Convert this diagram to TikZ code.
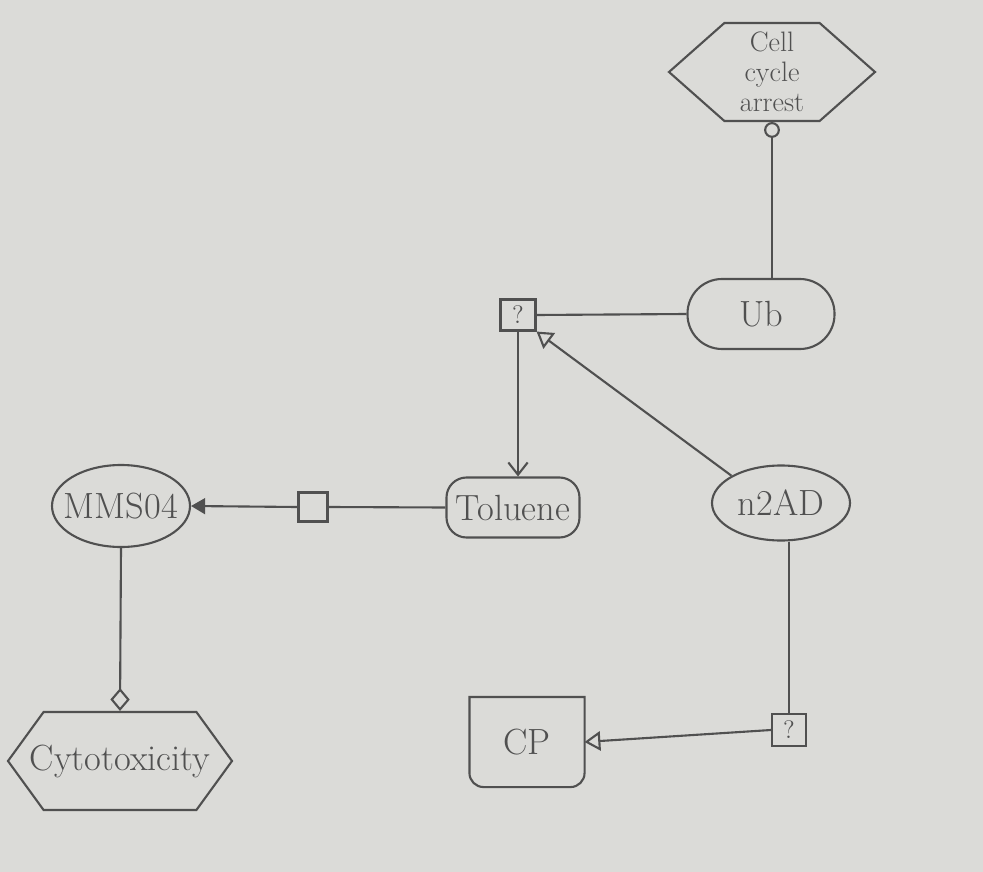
\documentclass[tikz,border=0pt]{standalone}
\usetikzlibrary{arrows.meta,shapes.geometric,shapes.symbols}
\definecolor{papier}{RGB}{219,219,216}
\definecolor{tinte}{RGB}{80,80,80}
\begin{document}
\begin{tikzpicture}[
	    line width=1.2pt, color=tinte, font=\huge,
	    phaenotyp/.style={draw, signal, signal to=west and east, inner sep=0pt, align=center},
	    makro/.style={draw, rectangle, rounded corners=12pt, inner sep=2pt},
	    chemie/.style={draw, ellipse, inner ysep=0pt, inner xsep=-10pt},
	    prozess/.style={draw, rectangle, inner sep=0pt, font=\Large},
	    stimulation/.style={-{Triangle[open, length=9pt, width=11pt]}},
	    produktion/.style={-{Triangle[length=8pt, width=9pt]}},
	    katalyse/.style={-{Circle[open, length=9pt]}},
	    modulation/.style={-{Diamond[open, length=13pt, width=11pt]}},
	    pfeil/.style={-{Straight Barb[length=7pt, width=11pt]}}
	]
	    % Papier
	    \fill[papier] (0,0) rectangle (19.66,-17.44);
	
	    % Phaenotypen
	    \node[phaenotyp, font={\fontsize{16}{17}\selectfont}, minimum width=4.12cm, minimum height=1.96cm, signal pointer angle=83] (zyklus) at (15.44,-1.44) {Cell\\cycle\\arrest};
	    \node[phaenotyp, inner xsep=-14pt, minimum width=4.48cm, minimum height=1.96cm, signal pointer angle=108] (zyto) at (2.4,-15.22) {Cytotoxicity};
	
	    % Molekuele
	    \node[makro, minimum width=2.94cm, minimum height=1.4cm, rounded corners=0.69cm] (ub) at (15.22,-6.28) {Ub};
	    \node[makro, minimum width=2.66cm, minimum height=1.2cm, rounded corners=0.4cm] (toluol) at (10.26,-10.15) {Toluene};
	    \node[chemie, minimum width=2.76cm, minimum height=1.64cm] (mms) at (2.42,-10.12) {MMS04};
	    \node[chemie, minimum width=2.76cm, minimum height=1.5cm] (n2ad) at (15.62,-10.06) {n2AD};
	    \node[minimum width=2.26cm, minimum height=1.76cm] (cp) at (10.54,-14.84) {CP};
	    \draw (cp.north west) -- (cp.north east) -- ([yshift=8pt]cp.south east) arc[start angle=0, end angle=-90, radius=8pt] -- ([xshift=8pt]cp.south west) arc[start angle=270, end angle=180, radius=8pt] -- cycle;
	
	    % Prozesse
	    \node[prozess, minimum width=0.7cm, minimum height=0.62cm] (frage1) at (10.36,-6.3) {?};
	    \node[prozess, minimum size=0.58cm] (uebergang) at (6.26,-10.14) {};
	    \node[prozess, minimum width=0.68cm, minimum height=0.64cm] (frage2) at (15.78,-14.6) {?};
	
	    % Verbindungen
	    \draw[katalyse] (zyklus.south |- ub.north) -- (zyklus.south);
	    \draw (ub.west) -- (frage1.east);
	    \draw[stimulation] (n2ad.north west) -- (frage1.south east);
	    \draw[pfeil] (frage1.south) -- (frage1.south |- toluol.north);
	    \draw (toluol.west) -- (uebergang.east);
	    \draw[produktion] (uebergang.west) -- (mms.east);
	    \draw[modulation] (mms.south) -- (zyto.north);
	    \draw (n2ad.south -| frage2.north) -- (frage2.north);
	    \draw[stimulation] (frage2.west) -- (cp.east);
	\end{tikzpicture}
\end{document}
